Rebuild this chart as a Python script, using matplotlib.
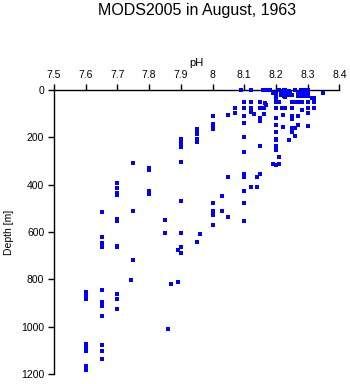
import matplotlib
matplotlib.use("Agg")
import matplotlib.pyplot as plt

plt.rcParams['font.family'] = ['Liberation Sans', 'DejaVu Sans']

title = "MODS2005 in August, 1963"
x_label = "pH"
y_label = "Depth [m]"
x_ticks = [7.5, 7.6, 7.7, 7.8, 7.9, 8.0, 8.1, 8.2, 8.3, 8.4]
x_tick_labels = ["7.5", "7.6", "7.7", "7.8", "7.9", "8", "8.1", "8.2", "8.3", "8.4"]
y_ticks = [0, 200, 400, 600, 800, 1000, 1200]

# (pH, depth) samples
ph = [
    # 7.6
    7.60, 7.60, 7.60, 7.60, 7.60, 7.60, 7.60, 7.60, 7.60,
    # 7.65
    7.65, 7.65, 7.65, 7.65, 7.65, 7.65, 7.65, 7.65, 7.65, 7.65, 7.65,
    # 7.7
    7.70, 7.70, 7.70, 7.70, 7.70, 7.70, 7.70, 7.70, 7.70, 7.70, 7.70,
    # 7.75
    7.75, 7.75, 7.75, 7.742,
    # 7.8
    7.80, 7.80, 7.80, 7.80,
    # 7.85 - 7.87
    7.85, 7.85, 7.861, 7.87,
    # 7.9
    7.90, 7.90, 7.90, 7.90, 7.90, 7.90, 7.90, 7.90, 7.90, 7.89, 7.892,
    # 7.95
    7.95, 7.95, 7.95, 7.95, 7.95, 7.95, 7.962,
    # 8.0
    8.00, 8.00, 8.00, 8.00, 8.00, 8.00, 8.00, 8.00,
    # 8.03 - 8.07
    8.031, 8.031, 8.05, 8.05, 8.05, 8.072, 8.072,
    # 8.1
    8.09, 8.10, 8.10, 8.10, 8.10, 8.10, 8.10, 8.10, 8.10, 8.10, 8.10, 8.10,
    # 8.12 - 8.19
    8.12, 8.12, 8.12, 8.12, 8.121, 8.131, 8.14, 8.14,
    8.151, 8.151, 8.151, 8.151, 8.151, 8.151,
    8.161, 8.161, 8.16, 8.17, 8.17, 8.165, 8.18, 8.19, 8.19,
    # 8.2
    8.20, 8.20, 8.20, 8.20, 8.20, 8.20, 8.20, 8.20, 8.20, 8.20, 8.20, 8.20, 8.20,
    8.21, 8.21, 8.21, 8.21,
    # 8.22 - 8.35
    8.22, 8.223, 8.222, 8.23, 8.241,
    8.25, 8.25, 8.25, 8.25, 8.25, 8.25, 8.255, 8.26, 8.26, 8.26,
    8.27, 8.27, 8.27, 8.282, 8.282,
    8.30, 8.30, 8.30, 8.30, 8.319, 8.319, 8.319, 8.35,
    # dense near-surface cluster
    8.215, 8.215, 8.215, 8.225, 8.225, 8.225, 8.225, 8.23, 8.23, 8.23, 8.23, 8.23,
    8.235, 8.235, 8.235, 8.24, 8.24, 8.24, 8.245, 8.25, 8.26, 8.27, 8.27, 8.27,
    8.28, 8.28, 8.28, 8.28, 8.29, 8.29, 8.29, 8.29, 8.30, 8.30, 8.30, 8.30, 8.315,
]
depth = [
    854, 865, 875, 885, 1072, 1084, 1103, 1167, 1184,
    515, 621, 645, 663, 844, 896, 914, 953, 1078, 1103, 1136,
    393, 412, 435, 443, 545, 555, 659, 665, 862, 883, 927,
    308, 510, 717, 803,
    329, 339, 428, 439,
    549, 603, 1010, 820,
    205, 215, 222, 240, 305, 467, 606, 662, 689, 676, 811,
    163, 177, 187, 209, 219, 641, 610,
    108, 142, 153, 163, 476, 511, 528, 570,
    448, 510, 105, 367, 536, 75, 96,
    0, 50, 75, 111, 139, 200, 263, 357, 367, 425, 477, 552,
    0, 50, 75, 92, 409, 100, 367, 411,
    50, 75, 118, 130, 236, 356,
    75, 100, 0, 64, 0, 57, 0, 12, 311,
    12, 22, 32, 50, 75, 118, 147, 177, 205, 212, 236, 255, 319,
    0, 50, 284, 311,
    75, 105, 156, 75, 211,
    50, 75, 109, 122, 160, 178, 160, 50, 160, 194,
    50, 111, 146, 50, 85,
    50, 75, 97, 150, 32, 50, 75, 12,
    4, 12, 20, 0, 6, 14, 24, 0, 8, 16, 24, 30,
    6, 14, 22, 4, 12, 20, 12, 20, 0, 12, 20, 26,
    0, 8, 16, 24, 0, 8, 16, 24, 0, 8, 16, 24, 32,
]

fig = plt.figure(figsize=(3.5, 3.84), dpi=100)
ax = fig.add_axes([54 / 350, 1 - 374 / 384, 285.3 / 350, 284 / 384])

ax.plot(ph, depth, linestyle='none', marker='s', markersize=2.2,
        color='#0000ff', markeredgewidth=0, clip_on=False, zorder=3)

ax.set_xlim(7.5, 8.4)
ax.set_ylim(1200, 0)
ax.xaxis.tick_top()
ax.xaxis.set_label_position('top')
ax.set_xticks(x_ticks)
ax.set_xticklabels(x_tick_labels)
ax.set_yticks(y_ticks)
ax.set_xlabel(x_label, fontsize=8, labelpad=3)
ax.set_ylabel(y_label, fontsize=7.5, labelpad=5)
ax.tick_params(axis='both', labelsize=7.5, direction='out', length=4, width=1, pad=3, color='black')

for s in ['right', 'bottom']:
    ax.spines[s].set_visible(False)
for s in ['top', 'left']:
    ax.spines[s].set_linewidth(1)
    ax.spines[s].set_zorder(2)

fig.text(197 / 350, 1 - 11 / 384, title, ha='center', va='center', fontsize=11.5)

fig.savefig('out.png', dpi=100)
